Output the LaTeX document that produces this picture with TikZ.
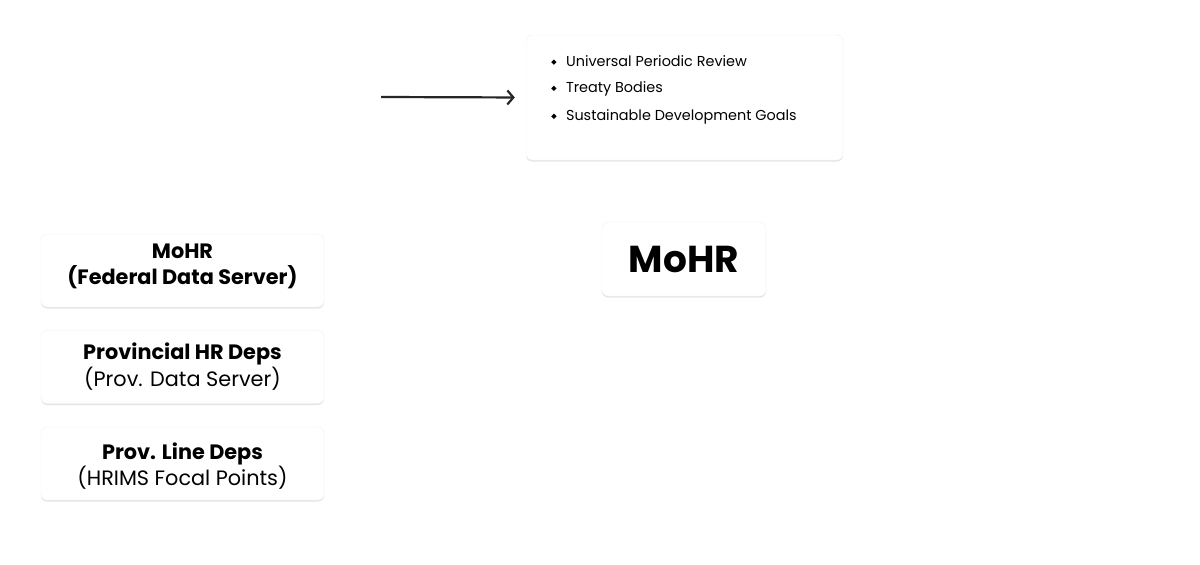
\documentclass[tikz,border=0pt]{standalone}
\usepackage{fontspec}
\setmainfont{Poppins}
\usetikzlibrary{arrows.meta,shadows}

\newcommand{\diam}{\raisebox{1.6pt}{\rotatebox{45}{\rule{3.8pt}{3.8pt}}}}

\begin{document}
\begin{tikzpicture}[x=1pt,y=-1pt,>={Straight Barb[length=6pt,width=14pt]},
  card/.style={rectangle,rounded corners=6pt,fill=white,draw=black!6,
    drop shadow={shadow xshift=0pt,shadow yshift=-1.5pt,opacity=0.10,fill=black}},
  side card/.style={card,minimum width=283pt,minimum height=73pt,inner sep=0pt},
  side text/.style={align=center,inner sep=0pt,font=\fontsize{20.8}{27}\selectfont},
  item/.style={anchor=west,inner sep=0pt,font=\fontsize{14.4}{16}\selectfont}]

  \useasboundingbox[fill=white] (0,0) rectangle (1200,565);

  % reporting box
  \node[card,minimum width=317pt,minimum height=125pt] (report) at (684.5,97.5) {};
  \node[item] (upr) at (551,61) {\diam\hspace{9.5pt}Universal Periodic Review};
  \node[item] (tb)  at (551,89) {\diam\hspace{9.5pt}Treaty Bodies};
  \node[item] (sdg) at (551,117) {\diam\hspace{9.5pt}Sustainable Development Goals};

  \coordinate (start) at (381,97);
  \draw[->,line width=2.2pt,black!85,shorten >=11pt] (start) -- (report.west);

  % central node
  \node[card,minimum width=164pt,minimum height=74pt,
    font=\fontsize{37.5}{40}\bfseries\selectfont] (mohr) at (684,259) {MoHR};

  % data sources
  \node[side card] (federal) at (182.5,270.5) {};
  \node[side card] (prov) at (182.5,367) {};
  \node[side card] (line) at (182.5,463.5) {};
  \node[side text,font=\fontsize{20.8}{26}\bfseries\selectfont] (federal text)
    at ([yshift=4pt]federal.center) {MoHR\\(Federal Data Server)};
  \node[side text] (prov text) at ([yshift=0pt]prov.center) {\textbf{Provincial HR Deps}\\(Prov. Data Server)};
  \node[side text,font=\fontsize{20.8}{26}\selectfont] (line text)
    at ([yshift=-3pt]line.center) {\textbf{Prov. Line Deps}\\(HRIMS Focal Points)};
\end{tikzpicture}
\end{document}
